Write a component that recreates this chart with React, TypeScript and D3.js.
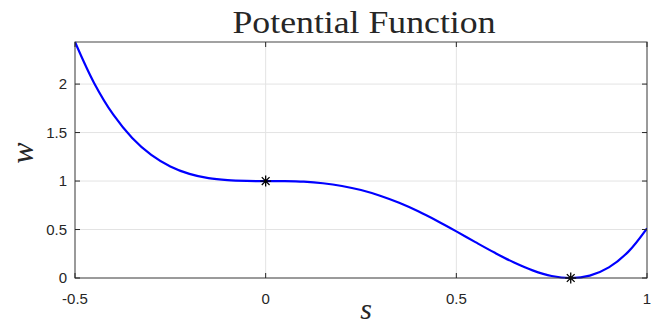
import React from "react";
import * as d3 from "d3";

const sValues = [-0.5, -0.45, -0.4, -0.35, -0.3, -0.25, -0.2, -0.15, -0.1, -0.05, 0, 0.05, 0.1, 0.15, 0.2, 0.25, 0.3, 0.35, 0.4, 0.45, 0.5, 0.55, 0.6, 0.65, 0.7, 0.75, 0.8, 0.85, 0.9, 0.95, 1.0];
const wValues = [2.434, 2.012, 1.687, 1.445, 1.270, 1.151, 1.074, 1.030, 1.009, 1.001, 1.0, 0.999, 0.993, 0.977, 0.949, 0.907, 0.848, 0.775, 0.6875, 0.588, 0.481, 0.370, 0.262, 0.162, 0.079, 0.021, 0.0, 0.025, 0.110, 0.267, 0.512];
const markerS = [0, 0.8];
const markerW = [1, 0];
const xTicks = [-0.5, 0, 0.5, 1];
const yTicks = [0, 0.5, 1, 1.5, 2];
const xTickLabels = ["-0.5", "0", "0.5", "1"];
const yTickLabels = ["0", "0.5", "1", "1.5", "2"];

export default function App() {
  const W = 664, H = 326;
  const left = 75, right = 647, top = 42, bottom = 278;
  const x = d3.scaleLinear().domain([-0.5, 1]).range([left, right]);
  const y = d3.scaleLinear().domain([0, 2.434]).range([bottom, top]);
  const pts = sValues.map((s, i) => [s, wValues[i]] as [number, number]);
  const line = d3.line<[number, number]>().x(d => x(d[0])).y(d => y(d[1])).curve(d3.curveCatmullRom.alpha(0.5));
  const axisColor = "#262626";
  const font = "'Liberation Sans', Arial, sans-serif";
  const star = (cx: number, cy: number, r: number) => {
    const segs = [];
    for (let k = 0; k < 4; k++) {
      const a = (k * Math.PI) / 4;
      segs.push(`M${cx - r * Math.cos(a)},${cy - r * Math.sin(a)}L${cx + r * Math.cos(a)},${cy + r * Math.sin(a)}`);
    }
    return segs.join("");
  };
  return (
    <svg width={W} height={H} style={{ position: "absolute", left: 0, top: 0, background: "#fff" }}>
      <rect x={0} y={0} width={W} height={H} fill="#fff" />
      {xTicks.map((t, i) => (
        <line key={"gx" + i} x1={x(t)} x2={x(t)} y1={top} y2={bottom} stroke="#e3e3e3" strokeWidth={1} />
      ))}
      {yTicks.map((t, i) => (
        <line key={"gy" + i} x1={left} x2={right} y1={y(t)} y2={y(t)} stroke="#e3e3e3" strokeWidth={1} />
      ))}
      <clipPath id="clip">
        <rect x={left} y={top - 2} width={right - left} height={bottom - top + 4} />
      </clipPath>
      <path d={line(pts) || ""} fill="none" stroke="#0000ff" strokeWidth={2.2} clipPath="url(#clip)" />
      {markerS.map((s, i) => (
        <path key={"m" + i} d={star(x(s), y(markerW[i]), 5.5)} stroke="#000" strokeWidth={1.3} fill="none" />
      ))}
      <rect x={left} y={top} width={right - left} height={bottom - top} fill="none" stroke={axisColor} strokeWidth={1} opacity={0.85} />
      {xTicks.map((t, i) => (
        <g key={"xt" + i}>
          <line x1={x(t)} x2={x(t)} y1={bottom} y2={bottom - 5} stroke={axisColor} />
          <line x1={x(t)} x2={x(t)} y1={top} y2={top + 5} stroke={axisColor} />
          <text x={x(t)} y={303.5} textAnchor="middle" fontFamily={font} fontSize={15} fill={axisColor}>{xTickLabels[i]}</text>
        </g>
      ))}
      {yTicks.map((t, i) => (
        <g key={"yt" + i}>
          <line x1={left} x2={left + 5} y1={y(t)} y2={y(t)} stroke={axisColor} />
          <line x1={right} x2={right - 5} y1={y(t)} y2={y(t)} stroke={axisColor} />
          <text x={67} y={y(t) + 5.3} textAnchor="end" fontFamily={font} fontSize={15} fill={axisColor}>{yTickLabels[i]}</text>
        </g>
      ))}
      <text x={364} y={33} textAnchor="middle" fontFamily="'Liberation Serif', 'DejaVu Serif', serif" fontSize={32} fill={axisColor} textLength={263} lengthAdjust="spacingAndGlyphs">Potential Function</text>
      <text x={366} y={319} textAnchor="middle" fontFamily="'Liberation Serif', serif" fontStyle="italic" fontSize={30} fill={axisColor}>s</text>
      <text x={33} y={153} textAnchor="middle" fontFamily="'Liberation Serif', serif" fontStyle="italic" fontSize={32} fill={axisColor} transform="rotate(-90 33 153)">w</text>
    </svg>
  );
}
